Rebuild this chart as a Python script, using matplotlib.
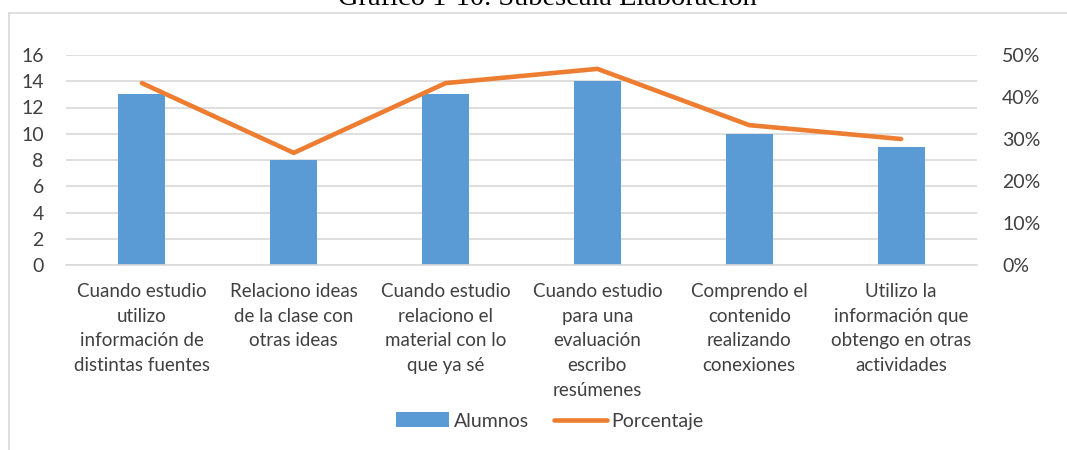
import matplotlib
matplotlib.use("Agg")
import matplotlib.pyplot as plt
from matplotlib.lines import Line2D
from matplotlib.patches import Patch
from matplotlib.ticker import FuncFormatter

categories = [
    "Cuando estudio\nutilizo\ninformación de\ndistintas fuentes",
    "Relaciono ideas\nde la clase con\notras ideas",
    "Cuando estudio\nrelaciono el\nmaterial con lo\nque ya sé",
    "Cuando estudio\npara una\nevaluación\nescribo\nresúmenes",
    "Comprendo el\ncontenido\nrealizando\nconexiones",
    "Utilizo la\ninformación que\nobtengo en otras\nactividades",
]
alumnos = [13, 8, 13, 14, 10, 9]
porcentaje = [0.433, 0.267, 0.433, 0.467, 0.333, 0.30]
left_ticks = list(range(0, 17, 2))
right_ticks = [0, 0.1, 0.2, 0.3, 0.4, 0.5]
title = "Gráfico 1-10. Subescala Elaboración"

BLUE = "#5b9bd5"
ORANGE = "#ed7d31"
GRID = "#d9d9d9"
TXT = "#404040"
FONT = "Lato"

W, H = 1067, 450
fig = plt.figure(figsize=(W / 100, H / 100), dpi=100)
ax = fig.add_axes([66 / W, 1 - 265 / H, (977 - 66) / W, (265 - 55) / H])
ax2 = ax.twinx()

x = list(range(len(categories)))
ax.bar(x, alumnos, width=0.31, color=BLUE, zorder=2)
ax.set_xlim(-0.5, len(categories) - 0.5)
ax.set_ylim(0, 16)
ax.set_yticks(left_ticks)
ax.yaxis.grid(True, color=GRID, linewidth=1.2)
ax.set_axisbelow(True)
ax.set_xticks(x)
ax.set_xticklabels(categories, fontsize=13.5, family=FONT, color=TXT, linespacing=1.55)
ax.tick_params(axis="x", length=0, pad=13)
ax.tick_params(axis="y", length=0, pad=16, labelsize=14, labelcolor=TXT)
for lab in ax.get_yticklabels():
    lab.set_family(FONT)
for s in ["top", "right", "left"]:
    ax.spines[s].set_visible(False)
ax.spines["bottom"].set_color(GRID)
ax.spines["bottom"].set_linewidth(1.2)

ax2.plot(x, porcentaje, color=ORANGE, linewidth=3.3, solid_capstyle="round", zorder=3)
ax2.set_ylim(0, 0.5 * (265 - 55) / (265 - 54))
ax2.set_yticks(right_ticks)
ax2.yaxis.set_major_formatter(FuncFormatter(lambda v, p: f"{round(v * 100)}%"))
ax2.tick_params(axis="y", length=0, pad=18, labelsize=14, labelcolor=TXT)
for lab in ax2.get_yticklabels():
    lab.set_family(FONT)
for s in ax2.spines.values():
    s.set_visible(False)

handles = [Patch(facecolor=BLUE, edgecolor="none"),
           Line2D([0], [0], color=ORANGE, linewidth=3.3, solid_capstyle="round")]
fig.legend(handles, ["Alumnos", "Porcentaje"], loc="center", bbox_to_anchor=(550 / W, 1 - 421 / H),
           ncol=2, frameon=False, prop={"family": FONT, "size": 14}, labelcolor=TXT,
           handlelength=2.7, handleheight=0.8, handletextpad=0.25, columnspacing=1.3)

# outer chart frame
fig.add_artist(Line2D([9 / W, 9 / W], [0, 1 - 13 / H], transform=fig.transFigure, color=GRID, linewidth=1.2))
fig.add_artist(Line2D([9 / W, 1], [1 - 13 / H, 1 - 13 / H], transform=fig.transFigure, color=GRID, linewidth=1.2))

fig.text(547 / W, 1 - 5 / H, title, ha="center", va="baseline", family="Liberation Serif",
         fontsize=20.5, color="black")

fig.savefig("out.png", dpi=100)
